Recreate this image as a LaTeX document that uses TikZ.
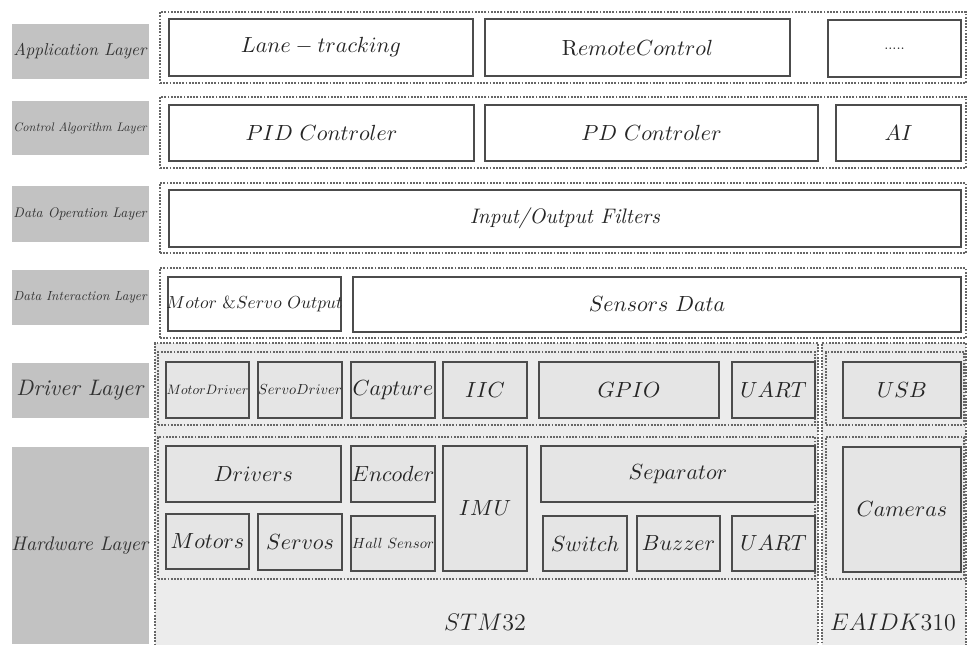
\documentclass[tikz,border=0pt]{standalone}
\usetikzlibrary{fit}
\definecolor{lblgray}{gray}{0.76}
\definecolor{regfill}{gray}{0.925}
\definecolor{boxfill}{gray}{0.90}
\begin{document}
\begin{tikzpicture}[x=0.5pt,y=-0.5pt,
  lbl/.style={fill=lblgray, draw=none, inner sep=0pt, outer sep=0pt},
  lt/.style={inner sep=0pt, text=black!80},
  cont/.style={draw=black!60, line width=1.2pt, dash pattern=on 0.9pt off 0.7pt, inner sep=0pt, outer sep=0pt},
  region/.style={cont, fill=regfill},
  box/.style={draw=black!70, line width=1.1pt, fill=white, inner sep=0pt, outer sep=0pt},
  gbox/.style={box, fill=boxfill},
  bt/.style={inner sep=0pt, text=black!85, font=\fontsize{10.5}{12}\selectfont},
  bottomtxt/.style={inner sep=0pt, text=black!85, font=\fontsize{12}{14}\selectfont}]
\useasboundingbox (0,0) rectangle (968,644);
% layer labels
\node[lbl, fit={(12,24) (149,79)}, label={[lt]center:\resizebox{67pt}{!}{\textit{Application Layer}}}] (l1) {};
\node[lbl, fit={(12,101) (149,155)}, label={[lt]center:\resizebox{67pt}{!}{\textit{Control Algorithm Layer}}}] (l2) {};
\node[lbl, fit={(12,186) (149,242)}, label={[lt]center:\resizebox{67pt}{!}{\textit{Data Operation Layer}}}] (l3) {};
\node[lbl, fit={(12,270) (149,325)}, label={[lt]center:\resizebox{67pt}{!}{\textit{Data Interaction Layer}}}] (l4) {};
\node[lbl, fit={(12,363) (149,418)}, label={[lt]center:\resizebox{64pt}{!}{\textit{Driver Layer}}}] (l5) {};
\node[lbl, fit={(12,447) (149,644)}, label={[lt]center:\resizebox{69pt}{!}{\textit{Hardware Layer}}}] (l6) {};
% platform regions
\node[region, fit={(155,343) (818,646)}] (stm) {};
\node[region, fit={(822,343) (966,646)}] (eai) {};
% row containers
\node[cont, fit={(160,12) (966,83)}] (c1) {};
\node[cont, fit={(160,97) (966,168)}] (c2) {};
\node[cont, fit={(160,183) (966,253)}] (c3) {};
\node[cont, fit={(160,268) (966,338)}] (c4) {};
\node[cont, fit={(158,352) (815,425)}] (c5a) {};
\node[cont, fit={(826,352) (964,425)}] (c5b) {};
\node[cont, fit={(158,437) (815,579)}] (c6a) {};
\node[cont, fit={(826,437) (964,579)}] (c6b) {};
% application layer
\node[box, fit={(169,19) (473,76)}, label={[bt]center:$Lane-tracking$}] (lane) {};
\node[box, fit={(485,19) (790,76)}, label={[bt]center:$\mathrm{R}emoteControl$}] (remote) {};
\node[box, fit={(828,20) (961,77)}, label={[bt]center:\scalebox{0.7}{.....}}] (dots) {};
% control algorithm layer
\node[box, fit={(169,105) (474,161)}, label={[bt]center:$PID\ Controler$}] (pid) {};
\node[box, fit={(485,105) (818,161)}, label={[bt]center:$PD\ Controler$}] (pd) {};
\node[box, fit={(836,105) (961,161)}, label={[bt]center:$AI$}] (ai) {};
% data operation layer
\node[box, fit={(169,190) (961,247)}, label={[bt]center:\textit{Input/Output Filters}}] (filt) {};
% data interaction layer
\node[box, fit={(168,277) (341,331)}, label={[bt]center:\resizebox{88pt}{!}{$Motor\ \&Servo\ Output$}}] (mso) {};
\node[box, fit={(353,277) (961,332)}, label={[bt]center:$Sensors\ Data$}] (sens) {};
% driver layer
\node[gbox, fit={(166,362) (249,418)}, label={[bt]center:\resizebox{41pt}{!}{$MotorDriver$}}] (mdrv) {};
\node[gbox, fit={(258,362) (342,418)}, label={[bt]center:\resizebox{42pt}{!}{$ServoDriver$}}] (sdrv) {};
\node[gbox, fit={(351,362) (435,418)}, label={[bt]center:$Capture$}] (cap) {};
\node[gbox, fit={(443,362) (527,418)}, label={[bt]center:$IIC$}] (iic) {};
\node[gbox, fit={(539,362) (719,418)}, label={[bt]center:$GPIO$}] (gpio) {};
\node[gbox, fit={(732,362) (815,418)}, label={[bt]center:$UART$}] (uart1) {};
\node[gbox, fit={(843,362) (961,418)}, label={[bt]center:$USB$}] (usb) {};
% hardware layer
\node[gbox, fit={(166,446) (341,502)}, label={[bt]center:$Drivers$}] (drivers) {};
\node[gbox, fit={(166,514) (249,569)}, label={[bt]center:$Motors$}] (motors) {};
\node[gbox, fit={(258,514) (342,570)}, label={[bt]center:$Servos$}] (servos) {};
\node[gbox, fit={(351,446) (435,502)}, label={[bt]center:$Encoder$}] (enc) {};
\node[gbox, fit={(351,516) (435,571)}, label={[bt]center:\resizebox{41pt}{!}{$Hall\ Sensor$}}] (hall) {};
\node[gbox, fit={(443,446) (527,571)}, label={[bt]center:$IMU$}] (imu) {};
\node[gbox, fit={(541,446) (815,502)}, label={[bt]center:$Separator$}] (sep) {};
\node[gbox, fit={(543,516) (627,571)}, label={[bt]center:$Switch$}] (sw) {};
\node[gbox, fit={(637,516) (720,571)}, label={[bt]center:$Buzzer$}] (buz) {};
\node[gbox, fit={(732,516) (815,571)}, label={[bt]center:$UART$}] (uart2) {};
\node[gbox, fit={(843,447) (961,572)}, label={[bt]center:$Cameras$}] (cam) {};
% platform names
\node[bottomtxt] (stmtxt) at (485,622) {$STM32$};
\node[bottomtxt] (eaitxt) at (893,622) {$EAIDK310$};
\end{tikzpicture}
\end{document}
